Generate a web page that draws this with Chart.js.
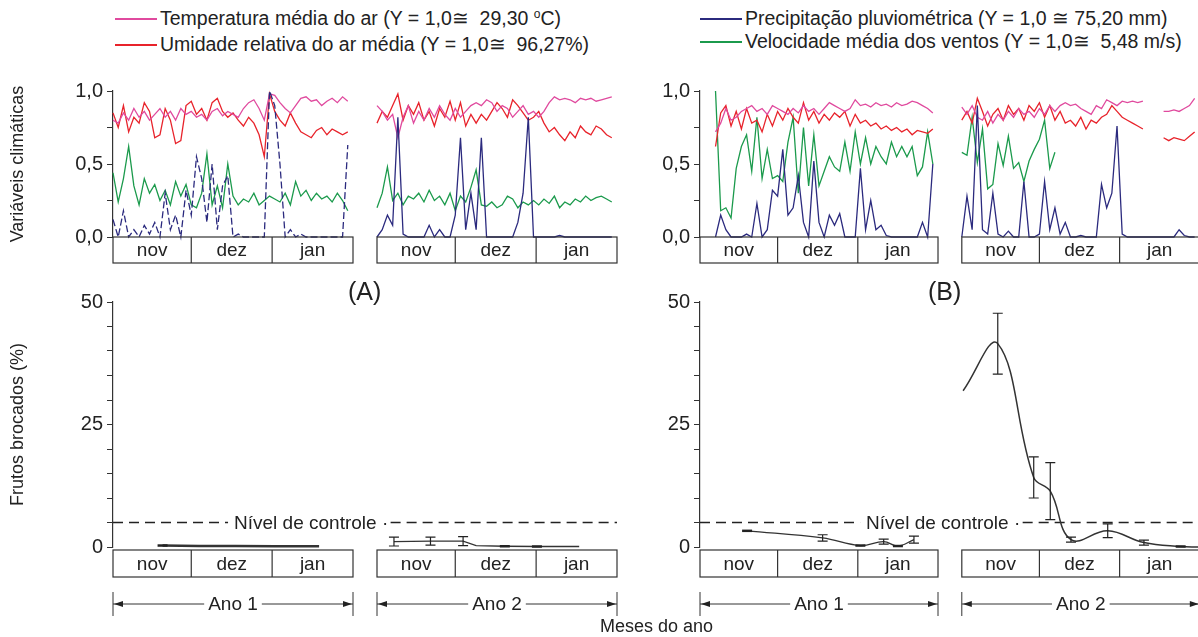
<!DOCTYPE html>
<html>
<head>
<meta charset="utf-8">
<script src="https://cdn.jsdelivr.net/npm/chart.js@4.4.1/dist/chart.umd.min.js"></script>
<style>
  body { margin: 0; background: #fff; width: 1198px; height: 637px; position: relative; overflow: hidden;
         font-family: "Liberation Sans", Arial, sans-serif; color: #222; }
  canvas { position: absolute; }
  .txt { position: absolute; white-space: nowrap; }
  .leg { position: absolute; font-size: 19.5px; line-height: 23px; white-space: nowrap; }
  .leg span.sw { display: inline-block; width: 42px; height: 1.6px; vertical-align: middle; margin-right: 3px; position: relative; top: -1px; }
  .deg { font-size: 12px; position: relative; top: -7px; }
</style>
</head>
<body>

<canvas id="aTop" width="621" height="194" style="left:0;top:75px"></canvas>
<canvas id="aBot" width="621" height="336" style="left:0;top:286px"></canvas>
<canvas id="bTop" width="571" height="194" style="left:627px;top:75px"></canvas>
<canvas id="bBot" width="571" height="336" style="left:627px;top:286px"></canvas>

<div class="leg" style="left:115px;top:7px">
  <div><span class="sw" style="background:#e04a9e"></span>Temperatura média do ar (Y = 1,0≅&nbsp; 29,30 <span class="deg">o</span>C)</div>
  <div><span class="sw" style="background:#e8232b"></span>Umidade relativa do ar média (Y = 1,0≅&nbsp; 96,27%)</div>
</div>
<div class="leg" style="left:700px;top:7px">
  <div><span class="sw" style="background:#2b2a7e"></span>Precipitação pluviométrica (Y = 1,0 ≅ 75,20 mm)</div>
  <div><span class="sw" style="background:#1b9a4c"></span>Velocidade média dos ventos (Y = 1,0≅&nbsp; 5,48 m/s)</div>
</div>
<div class="txt" style="left:348px;top:277px;font-size:25px">(A)</div>
<div class="txt" style="left:928px;top:277px;font-size:25px">(B)</div>
<div class="txt" style="left:600px;top:616px;font-size:18px">Meses do ano</div>

<script>
// days since 1 Nov (one reading every 2 days)
const days = [0,2,4,6,8,10,12,14,16,18,20,22,24,26,28,30,32,34,36,38,40,42,44,46,48,50,52,54,56,58,60,62,64,66,68,70,72,74,76,78,80,82,84,86,88,90];
const months = ['nov', 'dez', 'jan'];
const monthStart = [0, 30, 61, 92];
const yearLabels = ['Ano 1', 'Ano 2'];

const climTicks = [0, 0.25, 0.5, 0.75, 1];
const climTickLabels = ['0,0', '', '0,5', '', '1,0'];
const damageTicks = [0, 5, 10, 15, 20, 25, 30, 35, 40, 45, 50];
const damageTickLabels = ['0', '', '', '', '', '25', '', '', '', '', '50'];
const controlLevel = 5;

// (A) climate, year 1
const tempA1 = [0.80,0.78,0.85,0.80,0.88,0.82,0.86,0.80,0.84,0.88,0.82,0.86,0.80,0.88,0.84, 0.86,0.82,0.84,0.80,0.86,0.88,0.83,0.86,0.84,0.82,0.88,0.92,0.94,0.88,0.80,0.98, 0.97,0.92,0.88,0.85,0.90,0.95,0.96,0.93,0.94,0.90,0.93,0.95,0.92,0.96,0.93];
const humA1  = [0.85,0.75,0.90,0.72,0.82,0.78,0.92,0.86,0.68,0.70,0.88,0.80,0.64,0.66,0.90, 0.93,0.84,0.88,0.80,0.92,0.95,0.86,0.82,0.85,0.80,0.76,0.82,0.78,0.70,0.55,0.98, 0.86,0.80,0.76,0.85,0.78,0.72,0.70,0.68,0.73,0.75,0.70,0.74,0.72,0.70,0.72];
const rainA1 = [0.12,0.0,0.18,0.0,0.05,0.0,0.08,0.02,0.10,0.0,0.30,0.05,0.15,0.0,0.32, 0.15,0.55,0.40,0.10,0.50,0.05,0.35,0.42,0.0,0.02,0.0,0.0,0.0,0.0,0.0,1.0, 0.90,0.50,0.0,0.05,0.0,0.02,0.0,0.0,0.0,0.0,0.0,0.0,0.0,0.0,0.63];
const windA1 = [0.44,0.24,0.40,0.62,0.35,0.22,0.40,0.30,0.36,0.25,0.32,0.22,0.38,0.28,0.36, 0.22,0.20,0.30,0.57,0.22,0.35,0.20,0.50,0.28,0.22,0.26,0.24,0.30,0.22,0.25,0.28, 0.26,0.24,0.30,0.22,0.38,0.28,0.32,0.25,0.30,0.26,0.28,0.24,0.30,0.25,0.18];
// (A) climate, year 2
const tempA2 = [0.90,0.86,0.80,0.84,0.68,0.82,0.90,0.78,0.86,0.80,0.88,0.82,0.90,0.84,0.80, 0.88,0.82,0.86,0.90,0.92,0.90,0.94,0.92,0.86,0.90,0.88,0.82,0.86,0.90,0.84,0.86, 0.82,0.86,0.92,0.96,0.94,0.95,0.94,0.92,0.95,0.94,0.95,0.93,0.94,0.95,0.96];
const humA2  = [0.78,0.86,0.82,0.90,0.98,0.80,0.90,0.84,0.92,0.80,0.86,0.76,0.88,0.82,0.93, 0.80,0.92,0.76,0.84,0.78,0.84,0.80,0.86,0.92,0.88,0.82,0.94,0.90,0.85,0.80,0.82, 0.86,0.78,0.72,0.75,0.70,0.66,0.72,0.68,0.76,0.72,0.70,0.76,0.74,0.70,0.68];
const rainA2 = [0,0.05,0.15,0.08,0.82,0.02,0,0,0,0,0.08,0,0.05,0,0, 0.15,0.68,0.05,0.30,0.05,0.68,0,0,0,0,0,0,0.10,0.30,0.82,0, 0,0,0,0,0.01,0,0,0,0,0,0,0,0,0,0];
const windA2 = [0.20,0.30,0.48,0.25,0.30,0.22,0.28,0.26,0.30,0.24,0.32,0.25,0.28,0.22,0.30, 0.18,0.28,0.24,0.34,0.46,0.22,0.21,0.24,0.20,0.22,0.28,0.26,0.20,0.24,0.22,0.25, 0.22,0.26,0.23,0.28,0.20,0.24,0.22,0.26,0.24,0.28,0.25,0.27,0.28,0.26,0.24];
// (B) climate, year 1
const tempB1 = [null,null,null,0.72,0.78,0.88,0.80,0.82,0.86,0.88,0.90,0.86,0.88,0.84,0.90, 0.88,0.86,0.84,0.88,0.85,0.90,0.86,0.88,0.84,0.88,0.92,0.90,0.88,0.86,0.88,0.94, 0.90,0.91,0.89,0.92,0.90,0.91,0.89,0.92,0.90,0.91,0.93,0.92,0.90,0.88,0.85];
const humB1  = [null,null,null,0.62,0.85,0.90,0.76,0.86,0.74,0.88,0.78,0.80,0.72,0.84,0.76, 0.86,0.80,0.88,0.82,0.78,0.92,0.80,0.86,0.78,0.84,0.80,0.85,0.82,0.86,0.76,0.84, 0.78,0.80,0.76,0.78,0.74,0.76,0.73,0.75,0.72,0.74,0.70,0.73,0.72,0.71,0.74];
const rainB1 = [null,null,null,0.0,0.15,0.05,0.0,0.0,0.0,0.02,0.0,0.23,0.0,0.05,0.32, 0.28,0.60,0.15,0.20,0.42,0.10,0.0,0.52,0.10,0.0,0.15,0.08,0.16,0.0,0.0,0.0, 0.47,0.05,0.25,0.05,0.08,0.01,0.0,0.0,0.0,0.0,0.0,0.0,0.10,0.0,0.50];
const windB1 = [null,null,null,1.0,0.18,0.20,0.13,0.47,0.62,0.70,0.45,0.82,0.40,0.60,0.40, 0.42,0.38,0.65,0.82,0.30,0.75,0.35,0.70,0.35,0.45,0.55,0.48,0.45,0.65,0.45,0.72, 0.50,0.68,0.50,0.62,0.55,0.50,0.65,0.55,0.62,0.55,0.62,0.42,0.48,0.72,0.50];
// (B) climate, year 2
const tempB2 = [0.89,0.84,0.90,0.82,0.80,0.86,0.78,0.84,0.80,0.86,0.82,0.88,0.84,0.86,0.82, 0.88,0.84,0.90,0.86,0.90,0.92,0.90,0.91,0.88,0.86,0.84,0.90,0.88,0.94,0.92,0.90, 0.93,0.92,0.93,0.92,0.93,null,null,null,0.86,0.86,0.87,0.86,0.88,0.90,0.95];
const humB2  = [0.80,0.86,0.78,0.95,0.86,0.76,0.84,0.88,0.80,0.90,0.84,0.88,0.80,0.90,0.86, 0.92,0.82,0.90,0.80,0.86,0.78,0.80,0.76,0.82,0.74,0.80,0.78,0.82,0.84,0.90,0.86, 0.82,0.80,0.78,0.76,0.74,null,null,null,0.68,0.66,0.68,0.67,0.66,0.69,0.72];
const rainB2 = [0,0.28,0.05,0.90,0.05,0.02,0.30,0.02,0,0.04,0,0,0.38,0,0, 0.02,0.38,0.05,0.20,0.02,0.10,0,0,0.01,0,0,0,0.36,0.20,0.30,0.76, 0.02,0,0,0,0,0,0,0,0,0,0,0.05,0.01,0,0];
const windB2 = [0.58,0.56,0.82,0.51,0.74,0.33,0.36,0.64,0.49,0.69,0.47,0.51,0.38,0.52,0.60, 0.67,0.80,0.47,0.58,null,null,null,null,null,null,null,null,null,null,null,null, null,null,null,null,null,null,null,null,null,null,null,null,null,null,null];

// bored fruits (%), day of sampling, mean and error
const damageA1Day = [19, 33, 47, 62, 79];
const damageA1 = [0.3, 0.2, 0.2, 0.15, 0.15];
const damageA1Err = [0, null, null, null, null];
const damageA2Day = [6.5, 20.5, 33, 38, 49, 61.3, 77.5];
const damageA2 = [1.1, 1.2, 1.2, 0.3, 0.15, 0.1, 0.1];
const damageA2Err = [0.9, 0.8, 0.9, null, 0, 0, null];
const damageB1Day = [18.2, 47.4, 62, 71, 76.5, 82.7];
const damageB1 = [3.3, 1.85, 0.3, 1.1, 0.2, 1.5];
const damageB1Err = [0, 0.65, 0, 0.5, 0, 0.7];
const damageB2Day = [0.5, 13.9, 27.8, 34.2, 42.2, 56.4, 70.4, 84.6, 91.5];
const damageB2 = [31.9, 41.5, 14.2, 11.4, 1.5, 3.3, 0.9, 0.1, 0.0];
const damageB2Err = [null, 6.2, 4.2, 5.8, 0.5, 1.4, 0.5, 0, null];

const YEAR2 = 101.2;   // x offset of the second year block
const C = { temp: '#e04a9e', hum: '#e8232b', rain: '#2b2a7e', wind: '#1b9a4c', ink: '#333' };

Chart.defaults.font.family = '"Liberation Sans", Arial, sans-serif';
Chart.defaults.color = '#222';

const xy = (xs, ys, off) => xs.map((d, i) => ({ x: d + off, y: ys[i] }));

const monthBoxes = {
  id: 'monthBoxes',
  afterDraw(chart, args, o) {
    const { ctx, chartArea, scales: { x } } = chart;
    const top = chartArea.bottom + o.gap;
    ctx.save();
    ctx.strokeStyle = C.ink; ctx.fillStyle = '#222'; ctx.lineWidth = 1.2;
    ctx.font = '19px "Liberation Sans", Arial, sans-serif';
    ctx.textAlign = 'center'; ctx.textBaseline = 'middle';
    [0, YEAR2].forEach((off, k) => {
      const x0 = x.getPixelForValue(off + monthStart[0]);
      const x1 = x.getPixelForValue(off + monthStart[3]);
      ctx.strokeRect(x0, top, x1 - x0, o.height);
      for (let m = 0; m < months.length; m++) {
        const a = x.getPixelForValue(off + monthStart[m]);
        const b = x.getPixelForValue(off + monthStart[m + 1]);
        if (m > 0) { ctx.beginPath(); ctx.moveTo(a, top); ctx.lineTo(a, top + o.height); ctx.stroke(); }
        ctx.fillText(months[m], (a + b) / 2, top + o.height / 2 + 1);
      }
      if (o.years) {
        const ay = chartArea.bottom + o.arrowY;
        const w = ctx.measureText(yearLabels[k]).width;
        const mid = (x0 + x1) / 2;
        ctx.lineWidth = 1;
        ctx.beginPath();
        ctx.moveTo(x0, ay - 12); ctx.lineTo(x0, ay + 12);
        ctx.moveTo(x1, ay - 12); ctx.lineTo(x1, ay + 12);
        ctx.moveTo(x0, ay); ctx.lineTo(mid - w / 2 - 4, ay);
        ctx.moveTo(mid + w / 2 + 4, ay); ctx.lineTo(x1, ay);
        ctx.stroke();
        ctx.beginPath();
        ctx.moveTo(x0 + 1, ay); ctx.lineTo(x0 + 10, ay - 3); ctx.lineTo(x0 + 10, ay + 3); ctx.closePath();
        ctx.moveTo(x1 - 1, ay); ctx.lineTo(x1 - 10, ay - 3); ctx.lineTo(x1 - 10, ay + 3); ctx.closePath();
        ctx.fill();
        ctx.fillText(yearLabels[k], mid, ay + 1);
        ctx.lineWidth = 1.2;
      }
    });
    ctx.restore();
  }
};

const errorBars = {
  id: 'errorBars',
  afterDatasetsDraw(chart) {
    const { ctx, scales: { x, y } } = chart;
    ctx.save();
    ctx.strokeStyle = '#222';
    chart.data.datasets.forEach(ds => {
      if (!ds.errors) return;
      ds.data.forEach((p, j) => {
        const e = ds.errors[j];
        if (e == null) return;
        const px = x.getPixelForValue(p.x);
        const yt = y.getPixelForValue(p.y + e);
        const yb = y.getPixelForValue(Math.max(p.y - e, 0));
        ctx.lineWidth = e === 0 ? 2.5 : 1.2;
        ctx.beginPath();
        ctx.moveTo(px - 5, yt); ctx.lineTo(px + 5, yt);
        if (e > 0) {
          ctx.moveTo(px, yt); ctx.lineTo(px, yb);
          ctx.moveTo(px - 5, yb); ctx.lineTo(px + 5, yb);
        }
        ctx.stroke();
      });
    });
    ctx.restore();
  }
};

const controlLine = {
  id: 'controlLine',
  beforeDatasetsDraw(chart, args, o) {
    const { ctx, chartArea, scales: { x, y } } = chart;
    const py = y.getPixelForValue(controlLevel);
    const tx = x.getPixelForValue(o.labelX);
    ctx.save();
    ctx.font = '19px "Liberation Sans", Arial, sans-serif';
    const w = ctx.measureText(o.text).width;
    ctx.strokeStyle = '#222'; ctx.lineWidth = 1.5; ctx.setLineDash([10, 6]);
    ctx.beginPath();
    ctx.moveTo(chartArea.left, py); ctx.lineTo(tx - 6, py);
    ctx.moveTo(tx + w + 14, py); ctx.lineTo(chartArea.right, py);
    ctx.stroke();
    ctx.fillStyle = '#222'; ctx.textBaseline = 'middle';
    ctx.fillText(o.text + ' ·', tx, py + 1);
    ctx.restore();
  }
};

function yAxis(ticks, labels, max, width, title) {
  return {
    min: 0, max: max,
    afterBuildTicks: s => { s.ticks = ticks.map(v => ({ value: v })); },
    afterFit: s => { s.width = width; },
    ticks: { callback: (v, i) => labels[i], font: { size: 20 }, color: '#222', padding: 4, autoSkip: false },
    grid: { drawOnChartArea: false, tickLength: 6, color: C.ink },
    border: { color: C.ink, width: 1.2 },
    title: { display: !!title, text: title || '', font: { size: 18 }, color: '#222', padding: { top: 7, bottom: 4 } }
  };
}

function line(data, color, extra) {
  return Object.assign({ data: data, borderColor: color, borderWidth: 1.3, pointRadius: 0, tension: 0, clip: 4 }, extra || {});
}

function climateChart(id, y1, y2, xMax, yWidth, title, padRight) {
  const ds = [];
  [[y1, 0], [y2, YEAR2]].forEach(([s, off]) => {
    ds.push(line(xy(days, s.rain, off), C.rain, s.dash ? { borderDash: [7, 3] } : {}));
    ds.push(line(xy(days, s.temp, off), C.temp));
    ds.push(line(xy(days, s.hum, off), C.hum));
    ds.push(line(xy(days, s.wind, off), C.wind));
  });
  return new Chart(document.getElementById(id), {
    type: 'line',
    data: { datasets: ds },
    options: {
      responsive: false, animation: false,
      layout: { padding: { top: 12, bottom: 32, left: 0, right: padRight } },
      plugins: { legend: { display: false }, tooltip: { enabled: false },
                 monthBoxes: { gap: 0, height: 26, years: false } },
      scales: {
        x: { type: 'linear', min: 0, max: xMax, display: false },
        y: yAxis(climTicks, climTickLabels, 1, yWidth, title)
      }
    },
    plugins: [monthBoxes]
  });
}

function damageChart(id, y1, y2, xMax, yWidth, title, padRight, labelX) {
  const ds = [
    line(xy(y1.day, y1.val, 0), '#333', { borderWidth: y1.width, tension: y1.tension, errors: y1.err }),
    line(xy(y2.day, y2.val, YEAR2), '#333', { borderWidth: y2.width, tension: y2.tension, errors: y2.err })
  ];
  return new Chart(document.getElementById(id), {
    type: 'line',
    data: { datasets: ds },
    options: {
      responsive: false, animation: false,
      layout: { padding: { top: 12, bottom: 75, left: 0, right: padRight } },
      plugins: { legend: { display: false }, tooltip: { enabled: false },
                 monthBoxes: { gap: 3, height: 27, years: true, arrowY: 57 },
                 controlLine: { labelX: labelX, text: 'Nível de controle' } },
      scales: {
        x: { type: 'linear', min: 0, max: xMax, display: false },
        y: yAxis(damageTicks, damageTickLabels, 50, yWidth, title)
      }
    },
    plugins: [monthBoxes, errorBars, controlLine]
  });
}

climateChart('aTop',
  { temp: tempA1, hum: humA1, rain: rainA1, wind: windA1, dash: true },
  { temp: tempA2, hum: humA2, rain: rainA2, wind: windA2 },
  193.2, 113, 'Variáveis climáticas', 4);
climateChart('bTop',
  { temp: tempB1, hum: humB1, rain: rainB1, wind: windB1 },
  { temp: tempB2, hum: humB2, rain: rainB2, wind: windB2 },
  192.5, 73, null, 0);
damageChart('aBot',
  { day: damageA1Day, val: damageA1, err: damageA1Err, width: 2.5, tension: 0 },
  { day: damageA2Day, val: damageA2, err: damageA2Err, width: 1.3, tension: 0 },
  193.2, 113, 'Frutos brocados (%)', 4, 46.4);
damageChart('bBot',
  { day: damageB1Day, val: damageB1, err: damageB1Err, width: 1.3, tension: 0.4 },
  { day: damageB2Day, val: damageB2, err: damageB2Err, width: 1.5, tension: 0.4 },
  192.5, 73, null, 0, 64.2);
</script>
</body>
</html>
